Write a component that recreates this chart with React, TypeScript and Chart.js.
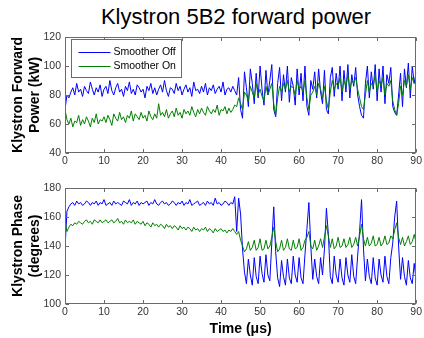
import React, { useEffect, useRef } from "react";
import { Chart, registerables } from "chart.js";

Chart.register(...registerables);

const TIME_STEP = 0.5; // µs between samples
const X_TICKS_MAX = 90;

// Klystron forward power (kW), Smoother Off
const powerOff = [
  70, 80, 78, 82, 85, 80, 88, 82, 84, 79, 86, 83, 81, 89, 84, 80, 85, 82, 87, 79,
  84, 86, 81, 90, 83, 80, 85, 88, 82, 84, 79, 86, 83, 89, 81, 84, 80, 87, 85, 82,
  84, 78, 86, 83, 88, 81, 85, 80, 84, 87, 82, 90, 83, 79, 85, 84, 81, 88, 83, 86,
  80, 84, 87, 82, 85, 79, 89, 83, 84, 81, 86, 82, 88, 80, 85, 83, 87, 81, 84, 86,
  82, 89, 80, 84, 85, 82, 86, 83,
  80, 92, 70, 64, 96, 85, 72, 98, 88, 74, 95, 78, 100, 84, 73, 97, 80, 90, 101, 70,
  65, 88, 99, 76, 94, 82, 100, 75, 92, 86, 73, 98, 80, 95, 76, 100, 72, 66, 90, 84,
  96, 78, 98, 82, 74, 97, 70, 67, 92, 99, 79, 95, 84, 100, 76, 97, 82, 101, 78, 94,
  86, 99, 80, 72, 66, 64, 88, 100, 78, 96, 84, 101, 76, 98, 82, 100, 74, 94, 88, 99,
  72, 68, 66, 80, 95, 72, 98, 85, 102, 78, 100, 88, 96,
];

// Klystron forward power (kW), Smoother On
const powerOn = [
  70, 63, 60, 64, 58, 62, 61, 66, 59, 63, 60, 65, 62, 58, 64, 61, 67, 60, 63, 62,
  65, 61, 66, 63, 59, 67, 64, 62, 68, 63, 65, 61, 66, 64, 69, 62, 67, 65, 63, 68,
  64, 66, 62, 69, 65, 63, 67, 64, 74, 66, 68, 65, 70, 64, 67, 69, 65, 71, 66, 68,
  64, 70, 67, 69, 66, 72, 68, 65, 70, 67, 71, 68, 66, 72, 69, 67, 70, 68, 73, 66,
  70, 69, 72, 67, 71, 68, 70, 73,
  72, 78, 74, 70, 82, 80, 76, 86, 82, 78, 88, 80, 84, 79, 76, 86, 80, 84, 88, 74,
  66, 78, 86, 82, 88, 84, 90, 82, 86, 85, 80, 90, 84, 86, 82, 90, 78, 70, 80, 82,
  86, 80, 88, 84, 78, 86, 76, 70, 82, 90, 84, 88, 86, 92, 82, 90, 86, 94, 84, 90,
  88, 92, 84, 78, 72, 70, 80, 90, 82, 88, 86, 94, 82, 90, 86, 92, 80, 88, 86, 90,
  76, 70, 66, 74, 86, 80, 90, 86, 94, 84, 92, 88, 90,
];

// Klystron phase (degrees), Smoother Off
const phaseOff = [
  138, 164, 167, 169, 170, 168, 171, 169, 170, 168, 169, 171, 170, 168, 170, 169, 171, 168, 170, 169,
  172, 168, 169, 170, 168, 171, 169, 170, 169, 168, 171, 170, 169, 172, 168, 170, 169, 171, 168, 170,
  169, 170, 171, 168, 170, 169, 172, 169, 168, 170, 171, 169, 170, 168, 169, 171, 170, 168, 170, 169,
  171, 168, 170, 169, 172, 168, 169, 170, 171, 168, 169, 170, 168, 171, 169, 170, 168, 173, 169, 170,
  168, 169, 171, 170, 168, 170, 169, 174,
  150, 173, 162, 138, 122, 114, 131, 120, 113, 132, 119, 114, 133, 121, 115, 134, 120, 116, 142, 167,
  136, 118, 112, 130, 119, 113, 131, 118, 114, 133, 120, 115, 132, 118, 114, 134, 152, 170, 140, 117,
  131, 119, 114, 132, 120, 138, 166, 148, 119, 114, 133, 120, 115, 131, 118, 113, 132, 120, 115, 134,
  119, 114, 133, 150, 172, 138, 116, 131, 119, 114, 132, 118, 113, 131, 120, 115, 133, 119, 114, 132,
  142, 160, 171, 140, 117, 132, 119, 113, 130, 118, 114, 128, 116,
];

// Klystron phase (degrees), Smoother On
const phaseOn = [
  157, 150, 153, 155, 154, 156, 155, 157, 156, 155, 157, 158, 156, 157, 155, 158, 157, 156, 158, 156,
  157, 158, 156, 157, 158, 156, 157, 159, 156, 157, 155, 158, 156, 157, 156, 158, 155, 157, 156, 155,
  157, 154, 156, 155, 153, 156, 154, 155, 153, 155, 154, 152, 155, 153, 154, 152, 154, 153, 151, 154,
  152, 153, 151, 153, 152, 150, 153, 151, 152, 150, 152, 151, 153, 150, 152, 151, 149, 152, 150, 151,
  152, 150, 151, 149, 151, 150, 152, 150,
  148, 150, 144, 140, 136, 138, 143, 137, 139, 144, 137, 139, 145, 137, 138, 144, 138, 140, 146, 153,
  143, 136, 138, 144, 137, 139, 145, 138, 137, 144, 138, 139, 145, 137, 139, 144, 146, 150, 140, 138,
  144, 137, 140, 145, 139, 146, 154, 147, 139, 145, 138, 140, 146, 139, 140, 145, 139, 141, 146, 139,
  141, 146, 140, 147, 155, 145, 140, 146, 140, 142, 147, 140, 141, 146, 140, 142, 147, 141, 142, 147,
  145, 151, 156, 146, 141, 146, 140, 143, 147, 141, 143, 148, 142,
];

const seriesLabels = ["Smoother Off", "Smoother On"];
const seriesColors = ["#0000ff", "#008000"];
const titleText = "Klystron 5B2 forward power";
const powerAxisTitle = ["Klystron Forward", "Power (kW)"];
const phaseAxisTitle = ["Klystron Phase", "(degrees)"];
const timeAxisTitle = "Time (μs)";

const FONT = '"Liberation Sans", Arial, Helvetica, sans-serif';
Chart.defaults.font.family = FONT;

const toXY = (vals: number[]) => vals.map((v, i) => ({ x: i * TIME_STEP, y: v }));

const framePlugin = {
  id: "matlabFrame",
  afterDatasetsDraw(chart: any, _args: any, opts: any) {
    const { ctx, chartArea } = chart;
    const { left, right, top, bottom } = chartArea;
    const xs = chart.scales.x;
    const ys = chart.scales.y;
    const L = Math.round(left) + 0.5;
    const R = Math.round(right) - 0.5;
    const T = Math.round(top) + 0.5;
    const B = Math.round(bottom) - 0.5;
    const tl = 3.5;
    ctx.save();
    ctx.strokeStyle = "#6a6a6a";
    ctx.lineWidth = 1;
    ctx.beginPath();
    xs.ticks.forEach((t: any) => {
      const px = Math.round(xs.getPixelForValue(t.value)) + 0.5;
      ctx.moveTo(px, B);
      ctx.lineTo(px, B - tl);
      ctx.moveTo(px, T);
      ctx.lineTo(px, T + tl);
    });
    ys.ticks.forEach((t: any) => {
      const py = Math.round(ys.getPixelForValue(t.value)) + 0.5;
      ctx.moveTo(L, py);
      ctx.lineTo(L + tl, py);
      ctx.moveTo(R, py);
      ctx.lineTo(R - tl, py);
    });
    ctx.stroke();
    ctx.strokeRect(L, T, R - L, B - T);

    if (opts && opts.legend) {
      const lx = Math.round(left) + 6.5;
      const ly = Math.round(top) + 2.5;
      const lw = 110;
      const lh = 38;
      ctx.fillStyle = "#ffffff";
      ctx.fillRect(lx, ly, lw, lh);
      ctx.strokeStyle = "#6a6a6a";
      ctx.strokeRect(lx, ly, lw, lh);
      ctx.font = `10.5px ${FONT}`;
      ctx.textBaseline = "middle";
      ctx.textAlign = "left";
      chart.data.datasets.forEach((ds: any, i: number) => {
        const ey = Math.round(ly + 12 + i * 14) + 0.5;
        ctx.strokeStyle = ds.borderColor;
        ctx.beginPath();
        ctx.moveTo(lx + 7, ey);
        ctx.lineTo(lx + 39, ey);
        ctx.stroke();
        ctx.fillStyle = "#000";
        ctx.fillText(ds.label, lx + 42, ey);
      });
    }
    ctx.restore();
  },
};

function makeConfig(
  off: number[],
  on: number[],
  yMin: number,
  yMax: number,
  yTitle: string[],
  padTop: number,
  xHeight: number,
  xTitle: string | null,
  legend: boolean
): any {
  const tickFont = { size: 10.5 };
  return {
    type: "line",
    data: {
      datasets: [
        {
          label: seriesLabels[0],
          data: toXY(off),
          borderColor: seriesColors[0],
          borderWidth: 1,
          pointRadius: 0,
          tension: 0,
          order: 2,
        },
        {
          label: seriesLabels[1],
          data: toXY(on),
          borderColor: seriesColors[1],
          borderWidth: 1,
          pointRadius: 0,
          tension: 0,
          order: 1,
        },
      ],
    },
    options: {
      responsive: false,
      animation: false,
      events: [],
      layout: { padding: { top: padTop, right: 5, bottom: 0, left: 0 } },
      plugins: {
        legend: { display: false },
        tooltip: { enabled: false },
        title: { display: false },
        matlabFrame: { legend },
      },
      scales: {
        x: {
          type: "linear",
          min: 0,
          max: X_TICKS_MAX,
          grid: { display: false, drawTicks: false },
          border: { display: false },
          ticks: { stepSize: 10, padding: 2, color: "#333", font: tickFont, maxRotation: 0 },
          title: xTitle
            ? {
                display: true,
                text: xTitle,
                color: "#000",
                font: { size: 14, weight: "bold" },
                padding: { top: 0, bottom: 0 },
              }
            : { display: false },
          afterFit: (s: any) => {
            s.height = xHeight;
          },
        },
        y: {
          min: yMin,
          max: yMax,
          grid: { display: false, drawTicks: false },
          border: { display: false },
          ticks: { stepSize: 20, padding: 4, color: "#333", font: tickFont },
          title: {
            display: true,
            text: yTitle,
            color: "#000",
            font: { size: 14, weight: "bold" },
            padding: { top: 10, bottom: 0 },
          },
          afterFit: (s: any) => {
            s.width = 65;
          },
        },
      },
    },
    plugins: [framePlugin],
  };
}

export default function App() {
  const ref1 = useRef<HTMLCanvasElement>(null);
  const ref2 = useRef<HTMLCanvasElement>(null);

  useEffect(() => {
    const c1 = new Chart(
      ref1.current as HTMLCanvasElement,
      makeConfig(powerOff, powerOn, 40, 120, powerAxisTitle, 37, 17, null, true)
    );
    const c2 = new Chart(
      ref2.current as HTMLCanvasElement,
      makeConfig(phaseOff, phaseOn, 100, 180, phaseAxisTitle, 18, 34, timeAxisTitle, false)
    );
    return () => {
      c1.destroy();
      c2.destroy();
    };
  }, []);

  return (
    <div
      style={{
        position: "absolute",
        left: 0,
        top: 0,
        width: 424,
        height: 338,
        background: "#fff",
        overflow: "hidden",
      }}
    >
      <div
        style={{
          position: "absolute",
          left: 36,
          top: 6,
          width: 400,
          textAlign: "center",
          fontFamily: FONT,
          fontSize: 22,
          lineHeight: "22px",
          color: "#000",
          whiteSpace: "nowrap",
        }}
      >
        {titleText}
      </div>
      <canvas
        ref={ref1}
        width={424}
        height={170}
        style={{ position: "absolute", left: 0, top: 0, display: "block" }}
      />
      <canvas
        ref={ref2}
        width={424}
        height={168}
        style={{ position: "absolute", left: 0, top: 170, display: "block" }}
      />
    </div>
  );
}
